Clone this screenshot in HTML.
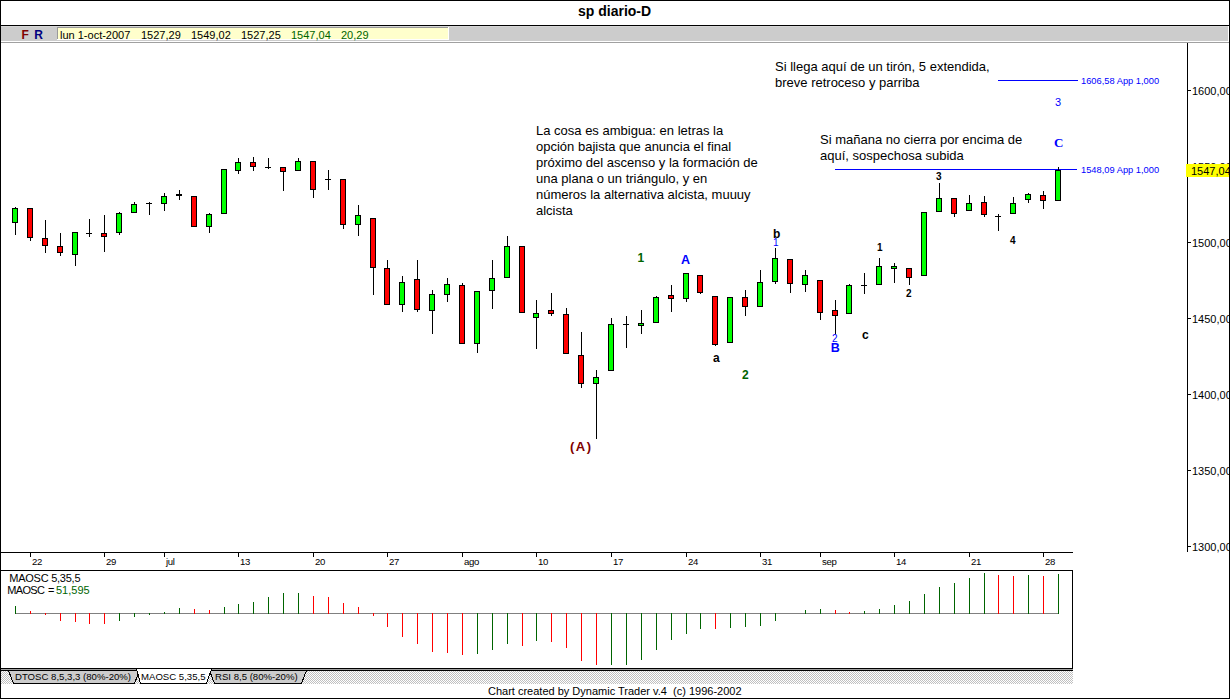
<!DOCTYPE html>
<html><head><meta charset="utf-8">
<style>
html,body{margin:0;padding:0;background:#fff;}
body{width:1230px;height:699px;overflow:hidden;position:relative;}
svg{position:absolute;left:0;top:0;}
text{font-family:"Liberation Sans",sans-serif;}
.t11{font-size:11px;}
.ann{font-size:13px;fill:#000;}
.ax{font-size:11px;fill:#000;}
.dx{font-size:9.6px;fill:#000;letter-spacing:-0.3px}
.wl{font-weight:bold;}
</style></head>
<body>
<svg width="1230" height="699" viewBox="0 0 1230 699">
<g shape-rendering="crispEdges">
<!-- outer border -->
<rect x="0" y="0" width="1230" height="699" fill="#fff"/>
<rect x="0" y="0" width="1230" height="1" fill="#000"/>
<rect x="0" y="0" width="1" height="699" fill="#000"/>
<rect x="1229" y="0" width="1" height="699" fill="#000"/>
<rect x="0" y="698" width="1230" height="1" fill="#000"/>
<!-- toolbar -->
<rect x="0" y="25" width="1230" height="1" fill="#000"/>
<rect x="1" y="26" width="1228" height="15" fill="#cccccc"/>
<rect x="1" y="26" width="1228" height="1" fill="#d6d6d6"/>
<rect x="1" y="41" width="1228" height="1" fill="#ffffff"/>
<rect x="1" y="42" width="1228" height="1" fill="#a0a0a0"/>
<rect x="57" y="27" width="392" height="13" fill="#ffffff"/>
<rect x="57" y="27" width="391" height="1" fill="#999999"/>
<rect x="57" y="27" width="1" height="12" fill="#999999"/>
<rect x="58" y="28" width="390" height="11" fill="#ffffcc"/>
<rect x="1228" y="26" width="1" height="16" fill="#ffffff"/>
<!-- price axis -->
<rect x="1187" y="43" width="1" height="509" fill="#000"/>
<rect x="1187" y="90" width="4" height="1" fill="#000"/>
<rect x="1187" y="166" width="4" height="1" fill="#000"/>
<rect x="1187" y="242" width="4" height="1" fill="#000"/>
<rect x="1187" y="318" width="4" height="1" fill="#000"/>
<rect x="1187" y="394" width="4" height="1" fill="#000"/>
<rect x="1187" y="470" width="4" height="1" fill="#000"/>
<rect x="1187" y="546" width="4" height="1" fill="#000"/>
<!-- date axis -->
<rect x="0" y="552" width="1073" height="1" fill="#000"/>
<rect x="0" y="570" width="1073" height="1" fill="#000"/>
<rect x="30" y="553" width="1" height="4" fill="#000"/>
<rect x="104" y="553" width="1" height="4" fill="#000"/>
<rect x="164" y="553" width="1" height="4" fill="#000"/>
<rect x="238" y="553" width="1" height="4" fill="#000"/>
<rect x="313" y="553" width="1" height="4" fill="#000"/>
<rect x="387" y="553" width="1" height="4" fill="#000"/>
<rect x="462" y="553" width="1" height="4" fill="#000"/>
<rect x="536" y="553" width="1" height="4" fill="#000"/>
<rect x="611" y="553" width="1" height="4" fill="#000"/>
<rect x="686" y="553" width="1" height="4" fill="#000"/>
<rect x="760" y="553" width="1" height="4" fill="#000"/>
<rect x="820" y="553" width="1" height="4" fill="#000"/>
<rect x="894" y="553" width="1" height="4" fill="#000"/>
<rect x="969" y="553" width="1" height="4" fill="#000"/>
<rect x="1043" y="553" width="1" height="4" fill="#000"/>
<!-- osc panel -->
<rect x="1072" y="570" width="1" height="99" fill="#000"/>
<rect x="0" y="668" width="1073" height="1" fill="#000"/>
<!-- projection lines -->
<rect x="998" y="80" width="80" height="1" fill="#0000ff"/>
<rect x="835" y="169" width="242" height="1" fill="#0000ff"/>
<rect x="15" y="207" width="1" height="28" fill="#000"/>
<rect x="12" y="208" width="6" height="15" fill="#000"/>
<rect x="13" y="209" width="4" height="13" fill="#00FF00"/>
<rect x="30" y="208" width="1" height="33" fill="#000"/>
<rect x="27" y="208" width="6" height="30" fill="#000"/>
<rect x="28" y="209" width="4" height="28" fill="#FF0000"/>
<rect x="45" y="220" width="1" height="33" fill="#000"/>
<rect x="42" y="238" width="6" height="8" fill="#000"/>
<rect x="43" y="239" width="4" height="6" fill="#FF0000"/>
<rect x="60" y="233" width="1" height="23" fill="#000"/>
<rect x="57" y="246" width="6" height="7" fill="#000"/>
<rect x="58" y="247" width="4" height="5" fill="#FF0000"/>
<rect x="75" y="232" width="1" height="34" fill="#000"/>
<rect x="72" y="232" width="6" height="23" fill="#000"/>
<rect x="73" y="233" width="4" height="21" fill="#00FF00"/>
<rect x="89" y="219" width="1" height="18" fill="#000"/>
<rect x="86" y="233" width="6" height="1" fill="#000"/>
<rect x="104" y="215" width="1" height="37" fill="#000"/>
<rect x="101" y="233" width="6" height="4" fill="#000"/>
<rect x="102" y="234" width="4" height="2" fill="#FF0000"/>
<rect x="119" y="212" width="1" height="23" fill="#000"/>
<rect x="116" y="213" width="6" height="20" fill="#000"/>
<rect x="117" y="214" width="4" height="18" fill="#00FF00"/>
<rect x="134" y="202" width="1" height="11" fill="#000"/>
<rect x="131" y="204" width="6" height="9" fill="#000"/>
<rect x="132" y="205" width="4" height="7" fill="#00FF00"/>
<rect x="149" y="202" width="1" height="13" fill="#000"/>
<rect x="146" y="203" width="6" height="1" fill="#000"/>
<rect x="164" y="193" width="1" height="18" fill="#000"/>
<rect x="161" y="196" width="6" height="8" fill="#000"/>
<rect x="162" y="197" width="4" height="6" fill="#00FF00"/>
<rect x="179" y="190" width="1" height="10" fill="#000"/>
<rect x="176" y="194" width="6" height="2" fill="#000"/>
<rect x="194" y="196" width="1" height="31" fill="#000"/>
<rect x="191" y="196" width="6" height="31" fill="#000"/>
<rect x="192" y="197" width="4" height="29" fill="#FF0000"/>
<rect x="209" y="213" width="1" height="20" fill="#000"/>
<rect x="206" y="214" width="6" height="13" fill="#000"/>
<rect x="207" y="215" width="4" height="11" fill="#00FF00"/>
<rect x="224" y="169" width="1" height="45" fill="#000"/>
<rect x="221" y="169" width="6" height="45" fill="#000"/>
<rect x="222" y="170" width="4" height="43" fill="#00FF00"/>
<rect x="238" y="158" width="1" height="16" fill="#000"/>
<rect x="235" y="162" width="6" height="9" fill="#000"/>
<rect x="236" y="163" width="4" height="7" fill="#00FF00"/>
<rect x="253" y="157" width="1" height="14" fill="#000"/>
<rect x="250" y="162" width="6" height="5" fill="#000"/>
<rect x="251" y="163" width="4" height="3" fill="#FF0000"/>
<rect x="268" y="158" width="1" height="11" fill="#000"/>
<rect x="265" y="167" width="6" height="1" fill="#000"/>
<rect x="283" y="167" width="1" height="24" fill="#000"/>
<rect x="280" y="167" width="6" height="5" fill="#000"/>
<rect x="281" y="168" width="4" height="3" fill="#FF0000"/>
<rect x="298" y="158" width="1" height="13" fill="#000"/>
<rect x="295" y="161" width="6" height="10" fill="#000"/>
<rect x="296" y="162" width="4" height="8" fill="#00FF00"/>
<rect x="313" y="161" width="1" height="37" fill="#000"/>
<rect x="310" y="161" width="6" height="29" fill="#000"/>
<rect x="311" y="162" width="4" height="27" fill="#FF0000"/>
<rect x="328" y="170" width="1" height="20" fill="#000"/>
<rect x="325" y="179" width="6" height="1" fill="#000"/>
<rect x="343" y="179" width="1" height="50" fill="#000"/>
<rect x="340" y="179" width="6" height="46" fill="#000"/>
<rect x="341" y="180" width="4" height="44" fill="#FF0000"/>
<rect x="358" y="205" width="1" height="31" fill="#000"/>
<rect x="355" y="215" width="6" height="10" fill="#000"/>
<rect x="356" y="216" width="4" height="8" fill="#00FF00"/>
<rect x="373" y="218" width="1" height="77" fill="#000"/>
<rect x="370" y="218" width="6" height="50" fill="#000"/>
<rect x="371" y="219" width="4" height="48" fill="#FF0000"/>
<rect x="387" y="260" width="1" height="45" fill="#000"/>
<rect x="384" y="268" width="6" height="37" fill="#000"/>
<rect x="385" y="269" width="4" height="35" fill="#FF0000"/>
<rect x="402" y="276" width="1" height="36" fill="#000"/>
<rect x="399" y="282" width="6" height="23" fill="#000"/>
<rect x="400" y="283" width="4" height="21" fill="#00FF00"/>
<rect x="417" y="260" width="1" height="52" fill="#000"/>
<rect x="414" y="279" width="6" height="31" fill="#000"/>
<rect x="415" y="280" width="4" height="29" fill="#FF0000"/>
<rect x="432" y="290" width="1" height="44" fill="#000"/>
<rect x="429" y="294" width="6" height="17" fill="#000"/>
<rect x="430" y="295" width="4" height="15" fill="#00FF00"/>
<rect x="447" y="278" width="1" height="24" fill="#000"/>
<rect x="444" y="284" width="6" height="11" fill="#000"/>
<rect x="445" y="285" width="4" height="9" fill="#00FF00"/>
<rect x="462" y="283" width="1" height="61" fill="#000"/>
<rect x="459" y="285" width="6" height="59" fill="#000"/>
<rect x="460" y="286" width="4" height="57" fill="#FF0000"/>
<rect x="477" y="291" width="1" height="62" fill="#000"/>
<rect x="474" y="291" width="6" height="53" fill="#000"/>
<rect x="475" y="292" width="4" height="51" fill="#00FF00"/>
<rect x="492" y="260" width="1" height="49" fill="#000"/>
<rect x="489" y="278" width="6" height="13" fill="#000"/>
<rect x="490" y="279" width="4" height="11" fill="#00FF00"/>
<rect x="507" y="236" width="1" height="42" fill="#000"/>
<rect x="504" y="246" width="6" height="32" fill="#000"/>
<rect x="505" y="247" width="4" height="30" fill="#00FF00"/>
<rect x="522" y="246" width="1" height="67" fill="#000"/>
<rect x="519" y="246" width="6" height="67" fill="#000"/>
<rect x="520" y="247" width="4" height="65" fill="#FF0000"/>
<rect x="536" y="300" width="1" height="49" fill="#000"/>
<rect x="533" y="313" width="6" height="5" fill="#000"/>
<rect x="534" y="314" width="4" height="3" fill="#00FF00"/>
<rect x="551" y="293" width="1" height="23" fill="#000"/>
<rect x="548" y="310" width="6" height="4" fill="#000"/>
<rect x="549" y="311" width="4" height="2" fill="#FF0000"/>
<rect x="566" y="308" width="1" height="46" fill="#000"/>
<rect x="563" y="314" width="6" height="40" fill="#000"/>
<rect x="564" y="315" width="4" height="38" fill="#FF0000"/>
<rect x="581" y="332" width="1" height="56" fill="#000"/>
<rect x="578" y="355" width="6" height="29" fill="#000"/>
<rect x="579" y="356" width="4" height="27" fill="#FF0000"/>
<rect x="596" y="370" width="1" height="69" fill="#000"/>
<rect x="593" y="377" width="6" height="7" fill="#000"/>
<rect x="594" y="378" width="4" height="5" fill="#00FF00"/>
<rect x="611" y="318" width="1" height="53" fill="#000"/>
<rect x="608" y="324" width="6" height="47" fill="#000"/>
<rect x="609" y="325" width="4" height="45" fill="#00FF00"/>
<rect x="626" y="316" width="1" height="32" fill="#000"/>
<rect x="623" y="324" width="6" height="1" fill="#000"/>
<rect x="641" y="310" width="1" height="24" fill="#000"/>
<rect x="638" y="323" width="6" height="3" fill="#000"/>
<rect x="639" y="324" width="4" height="1" fill="#00FF00"/>
<rect x="656" y="296" width="1" height="27" fill="#000"/>
<rect x="653" y="297" width="6" height="26" fill="#000"/>
<rect x="654" y="298" width="4" height="24" fill="#00FF00"/>
<rect x="671" y="285" width="1" height="27" fill="#000"/>
<rect x="668" y="295" width="6" height="4" fill="#000"/>
<rect x="669" y="296" width="4" height="2" fill="#FF0000"/>
<rect x="686" y="273" width="1" height="29" fill="#000"/>
<rect x="683" y="273" width="6" height="26" fill="#000"/>
<rect x="684" y="274" width="4" height="24" fill="#00FF00"/>
<rect x="700" y="275" width="1" height="19" fill="#000"/>
<rect x="697" y="275" width="6" height="18" fill="#000"/>
<rect x="698" y="276" width="4" height="16" fill="#FF0000"/>
<rect x="715" y="296" width="1" height="50" fill="#000"/>
<rect x="712" y="296" width="6" height="49" fill="#000"/>
<rect x="713" y="297" width="4" height="47" fill="#FF0000"/>
<rect x="730" y="297" width="1" height="46" fill="#000"/>
<rect x="727" y="297" width="6" height="46" fill="#000"/>
<rect x="728" y="298" width="4" height="44" fill="#00FF00"/>
<rect x="745" y="290" width="1" height="26" fill="#000"/>
<rect x="742" y="297" width="6" height="10" fill="#000"/>
<rect x="743" y="298" width="4" height="8" fill="#FF0000"/>
<rect x="760" y="270" width="1" height="37" fill="#000"/>
<rect x="757" y="282" width="6" height="25" fill="#000"/>
<rect x="758" y="283" width="4" height="23" fill="#00FF00"/>
<rect x="775" y="248" width="1" height="36" fill="#000"/>
<rect x="772" y="258" width="6" height="24" fill="#000"/>
<rect x="773" y="259" width="4" height="22" fill="#00FF00"/>
<rect x="790" y="259" width="1" height="34" fill="#000"/>
<rect x="787" y="259" width="6" height="25" fill="#000"/>
<rect x="788" y="260" width="4" height="23" fill="#FF0000"/>
<rect x="805" y="270" width="1" height="22" fill="#000"/>
<rect x="802" y="275" width="6" height="10" fill="#000"/>
<rect x="803" y="276" width="4" height="8" fill="#00FF00"/>
<rect x="820" y="280" width="1" height="40" fill="#000"/>
<rect x="817" y="280" width="6" height="33" fill="#000"/>
<rect x="818" y="281" width="4" height="31" fill="#FF0000"/>
<rect x="835" y="300" width="1" height="34" fill="#000"/>
<rect x="832" y="310" width="6" height="6" fill="#000"/>
<rect x="833" y="311" width="4" height="4" fill="#FF0000"/>
<rect x="849" y="284" width="1" height="30" fill="#000"/>
<rect x="846" y="285" width="6" height="29" fill="#000"/>
<rect x="847" y="286" width="4" height="27" fill="#00FF00"/>
<rect x="864" y="273" width="1" height="21" fill="#000"/>
<rect x="861" y="285" width="6" height="1" fill="#000"/>
<rect x="879" y="258" width="1" height="27" fill="#000"/>
<rect x="876" y="266" width="6" height="19" fill="#000"/>
<rect x="877" y="267" width="4" height="17" fill="#00FF00"/>
<rect x="894" y="263" width="1" height="20" fill="#000"/>
<rect x="891" y="266" width="6" height="3" fill="#000"/>
<rect x="892" y="267" width="4" height="1" fill="#00FF00"/>
<rect x="909" y="268" width="1" height="17" fill="#000"/>
<rect x="906" y="268" width="6" height="10" fill="#000"/>
<rect x="907" y="269" width="4" height="8" fill="#FF0000"/>
<rect x="924" y="212" width="1" height="64" fill="#000"/>
<rect x="921" y="212" width="6" height="64" fill="#000"/>
<rect x="922" y="213" width="4" height="62" fill="#00FF00"/>
<rect x="939" y="183" width="1" height="29" fill="#000"/>
<rect x="936" y="198" width="6" height="14" fill="#000"/>
<rect x="937" y="199" width="4" height="12" fill="#00FF00"/>
<rect x="954" y="198" width="1" height="19" fill="#000"/>
<rect x="951" y="198" width="6" height="16" fill="#000"/>
<rect x="952" y="199" width="4" height="14" fill="#FF0000"/>
<rect x="969" y="195" width="1" height="16" fill="#000"/>
<rect x="966" y="203" width="6" height="8" fill="#000"/>
<rect x="967" y="204" width="4" height="6" fill="#00FF00"/>
<rect x="984" y="196" width="1" height="21" fill="#000"/>
<rect x="981" y="202" width="6" height="13" fill="#000"/>
<rect x="982" y="203" width="4" height="11" fill="#FF0000"/>
<rect x="998" y="214" width="1" height="17" fill="#000"/>
<rect x="995" y="216" width="6" height="1" fill="#000"/>
<rect x="1013" y="197" width="1" height="17" fill="#000"/>
<rect x="1010" y="203" width="6" height="11" fill="#000"/>
<rect x="1011" y="204" width="4" height="9" fill="#00FF00"/>
<rect x="1028" y="193" width="1" height="10" fill="#000"/>
<rect x="1025" y="194" width="6" height="6" fill="#000"/>
<rect x="1026" y="195" width="4" height="4" fill="#00FF00"/>
<rect x="1043" y="191" width="1" height="18" fill="#000"/>
<rect x="1040" y="195" width="6" height="6" fill="#000"/>
<rect x="1041" y="196" width="4" height="4" fill="#FF0000"/>
<rect x="1058" y="167" width="1" height="34" fill="#000"/>
<rect x="1055" y="170" width="6" height="31" fill="#000"/>
<rect x="1056" y="171" width="4" height="29" fill="#00FF00"/>
<rect x="15" y="613" width="1044" height="1" fill="#808080"/>
<rect x="15" y="606" width="1" height="8" fill="#006400"/>
<rect x="30" y="611" width="1" height="3" fill="#FF0000"/>
<rect x="45" y="613" width="1" height="2" fill="#FF0000"/>
<rect x="60" y="613" width="1" height="8" fill="#FF0000"/>
<rect x="75" y="613" width="1" height="9" fill="#FF0000"/>
<rect x="89" y="613" width="1" height="11" fill="#FF0000"/>
<rect x="104" y="613" width="1" height="11" fill="#FF0000"/>
<rect x="119" y="613" width="1" height="8" fill="#006400"/>
<rect x="134" y="613" width="1" height="4" fill="#006400"/>
<rect x="149" y="613" width="1" height="2" fill="#006400"/>
<rect x="164" y="612" width="1" height="2" fill="#006400"/>
<rect x="179" y="608" width="1" height="6" fill="#006400"/>
<rect x="194" y="609" width="1" height="5" fill="#FF0000"/>
<rect x="209" y="610" width="1" height="4" fill="#FF0000"/>
<rect x="224" y="607" width="1" height="7" fill="#006400"/>
<rect x="238" y="604" width="1" height="10" fill="#006400"/>
<rect x="253" y="602" width="1" height="12" fill="#006400"/>
<rect x="268" y="597" width="1" height="17" fill="#006400"/>
<rect x="283" y="593" width="1" height="21" fill="#006400"/>
<rect x="298" y="593" width="1" height="21" fill="#006400"/>
<rect x="313" y="596" width="1" height="18" fill="#FF0000"/>
<rect x="328" y="597" width="1" height="17" fill="#FF0000"/>
<rect x="343" y="603" width="1" height="11" fill="#FF0000"/>
<rect x="358" y="607" width="1" height="7" fill="#FF0000"/>
<rect x="373" y="613" width="1" height="3" fill="#FF0000"/>
<rect x="387" y="613" width="1" height="14" fill="#FF0000"/>
<rect x="402" y="613" width="1" height="24" fill="#FF0000"/>
<rect x="417" y="613" width="1" height="31" fill="#FF0000"/>
<rect x="432" y="613" width="1" height="39" fill="#FF0000"/>
<rect x="447" y="613" width="1" height="40" fill="#FF0000"/>
<rect x="462" y="613" width="1" height="42" fill="#FF0000"/>
<rect x="477" y="613" width="1" height="41" fill="#006400"/>
<rect x="492" y="613" width="1" height="37" fill="#006400"/>
<rect x="507" y="613" width="1" height="31" fill="#006400"/>
<rect x="522" y="613" width="1" height="33" fill="#FF0000"/>
<rect x="536" y="613" width="1" height="28" fill="#006400"/>
<rect x="551" y="613" width="1" height="29" fill="#FF0000"/>
<rect x="566" y="613" width="1" height="35" fill="#FF0000"/>
<rect x="581" y="613" width="1" height="48" fill="#FF0000"/>
<rect x="596" y="613" width="1" height="52" fill="#FF0000"/>
<rect x="611" y="613" width="1" height="52" fill="#006400"/>
<rect x="626" y="613" width="1" height="52" fill="#006400"/>
<rect x="641" y="613" width="1" height="47" fill="#006400"/>
<rect x="656" y="613" width="1" height="37" fill="#006400"/>
<rect x="671" y="613" width="1" height="27" fill="#006400"/>
<rect x="686" y="613" width="1" height="21" fill="#006400"/>
<rect x="700" y="613" width="1" height="16" fill="#006400"/>
<rect x="715" y="613" width="1" height="16" fill="#FF0000"/>
<rect x="730" y="613" width="1" height="15" fill="#006400"/>
<rect x="745" y="613" width="1" height="14" fill="#006400"/>
<rect x="760" y="613" width="1" height="13" fill="#006400"/>
<rect x="775" y="613" width="1" height="8" fill="#006400"/>
<rect x="805" y="610" width="1" height="4" fill="#006400"/>
<rect x="820" y="609" width="1" height="5" fill="#006400"/>
<rect x="835" y="610" width="1" height="4" fill="#FF0000"/>
<rect x="849" y="612" width="1" height="2" fill="#FF0000"/>
<rect x="864" y="611" width="1" height="3" fill="#006400"/>
<rect x="879" y="609" width="1" height="5" fill="#006400"/>
<rect x="894" y="605" width="1" height="9" fill="#006400"/>
<rect x="909" y="601" width="1" height="13" fill="#006400"/>
<rect x="924" y="594" width="1" height="20" fill="#006400"/>
<rect x="939" y="587" width="1" height="27" fill="#006400"/>
<rect x="954" y="583" width="1" height="31" fill="#006400"/>
<rect x="969" y="578" width="1" height="36" fill="#006400"/>
<rect x="984" y="573" width="1" height="41" fill="#006400"/>
<rect x="998" y="575" width="1" height="39" fill="#FF0000"/>
<rect x="1013" y="576" width="1" height="38" fill="#FF0000"/>
<rect x="1028" y="575" width="1" height="39" fill="#006400"/>
<rect x="1043" y="576" width="1" height="38" fill="#FF0000"/>
<rect x="1058" y="574" width="1" height="40" fill="#006400"/>
</g>
<!-- title -->
<text x="578" y="16" style="font-size:14px;font-weight:bold">sp diario-D</text>
<!-- toolbar text -->
<text x="21.5" y="39" style="font-size:12px;font-weight:bold;fill:#800000">F</text>
<text x="34.2" y="39" style="font-size:12px;font-weight:bold;fill:#000080">R</text>
<g class="t11">
<text x="60" y="38.8">lun 1-oct-2007</text>
<text x="141" y="38.8">1527,29</text>
<text x="191" y="38.8">1549,02</text>
<text x="241" y="38.8">1527,25</text>
<text x="291" y="38.8" fill="#006400">1547,04</text>
<text x="341" y="38.8" fill="#006400">20,29</text>
</g>
<!-- price labels -->
<g class="ax">
<text x="1192" y="95">1600,00</text>
<text x="1192" y="171">1550,00</text>
<text x="1192" y="247">1500,00</text>
<text x="1192" y="323">1450,00</text>
<text x="1192" y="399">1400,00</text>
<text x="1192" y="475">1350,00</text>
<text x="1192" y="551">1300,00</text>
</g>
<rect x="1186" y="164" width="43" height="13" fill="#ffff00"/>
<text x="1191" y="175" class="ax">1547,04</text>
<text x="32" y="565" class="dx">22</text>
<text x="106" y="565" class="dx">29</text>
<text x="166" y="565" class="dx">jul</text>
<text x="240" y="565" class="dx">13</text>
<text x="315" y="565" class="dx">20</text>
<text x="389" y="565" class="dx">27</text>
<text x="464" y="565" class="dx">ago</text>
<text x="538" y="565" class="dx">10</text>
<text x="613" y="565" class="dx">17</text>
<text x="688" y="565" class="dx">24</text>
<text x="762" y="565" class="dx">31</text>
<text x="822" y="565" class="dx">sep</text>
<text x="896" y="565" class="dx">14</text>
<text x="971" y="565" class="dx">21</text>
<text x="1045" y="565" class="dx">28</text>
<!-- annotations -->
<g class="ann">
<text x="775" y="71">Si llega aquí de un tirón, 5 extendida,</text>
<text x="775" y="87">breve retroceso y parriba</text>
<text x="536" y="135">La cosa es ambigua: en letras la</text>
<text x="536" y="151">opción bajista que anuncia el final</text>
<text x="536" y="167">próximo del ascenso y la formación de</text>
<text x="536" y="183">una plana o un triángulo, y en</text>
<text x="536" y="199">números la alternativa alcista, muuuy</text>
<text x="536" y="215">alcista</text>
<text x="820" y="144">Si mañana no cierra por encima de</text>
<text x="820" y="160">aquí, sospechosa subida</text>
</g>
<text x="1081" y="84" style="font-size:9.3px;fill:#0000ff">1606,58 App 1,000</text>
<text x="1081" y="173" style="font-size:9.3px;fill:#0000ff">1548,09 App 1,000</text>
<!-- wave labels -->
<text x="570" y="451" style="font-size:13px;font-weight:bold;fill:#800000;letter-spacing:1.5px">(A)</text>
<text x="637.6" y="262" style="font-size:12px;font-weight:bold;fill:#006400">1</text>
<text x="681" y="264" style="font-size:12.5px;font-weight:bold;fill:#0000ff">A</text>
<text x="713" y="362" style="font-size:12px;font-weight:bold;fill:#000">a</text>
<text x="742" y="379" style="font-size:12px;font-weight:bold;fill:#006400">2</text>
<text x="773" y="238" style="font-size:12px;font-weight:bold;fill:#000">b</text>
<text x="773" y="246" style="font-size:10px;fill:#0000ff">1</text>
<text x="832" y="342" style="font-size:10px;fill:#0000ff">2</text>
<text x="830.8" y="352" style="font-size:12.5px;font-weight:bold;fill:#0000ff">B</text>
<text x="862" y="339" style="font-size:12px;font-weight:bold;fill:#000">c</text>
<text x="877" y="251" style="font-size:10px;font-weight:bold;fill:#000">1</text>
<text x="906" y="297" style="font-size:10px;font-weight:bold;fill:#000">2</text>
<text x="936" y="180" style="font-size:10px;font-weight:bold;fill:#000">3</text>
<text x="1010" y="244" style="font-size:10px;font-weight:bold;fill:#000">4</text>
<text x="1055" y="106" style="font-size:11px;fill:#0000ff">3</text>
<text x="1054" y="147" style="font-family:'Liberation Serif',serif;font-size:13px;font-weight:bold;fill:#0000ff">C</text>
<!-- osc labels -->
<text x="9.3" y="582" class="t11" style="letter-spacing:-0.25px">MAOSC 5,35,5</text>
<text x="7.3" y="594" class="t11" style="letter-spacing:-0.7px">MAOSC</text><text x="48" y="594" class="t11">=</text><text x="56" y="594" class="t11" fill="#006400">51,595</text>
<!-- tabs -->
<defs><pattern id="dith" x="0" y="0" width="2" height="2" patternUnits="userSpaceOnUse">
<rect width="2" height="2" fill="#ffffff"/><rect width="1" height="1" fill="#c0c0c0"/><rect x="1" y="1" width="1" height="1" fill="#c0c0c0"/></pattern></defs>
<g shape-rendering="crispEdges">
<rect x="1" y="669" width="1072" height="1" fill="#a0a0a0"/>
<rect x="1" y="670" width="1072" height="1" fill="#000000"/>
<rect x="1" y="671" width="1072" height="13" fill="url(#dith)"/>
<polygon points="8.5,670.5 13.5,683.5 134.5,683.5 139.5,670.5" fill="#cccccc" stroke="#000" stroke-width="1"/>
<polygon points="209.5,670.5 214.5,683.5 301.5,683.5 306.5,670.5" fill="#cccccc" stroke="#000" stroke-width="1"/>
<polygon points="136.5,669 140.5,683.5 206.5,683.5 211.5,669" fill="#ffffff" stroke="#000" stroke-width="1"/>
<rect x="137" y="669" width="74" height="2" fill="#fff"/>
</g>
<text x="15" y="680" style="font-size:9.6px">DTOSC 8,5,3,3 (80%-20%)</text>
<text x="141" y="680" style="font-size:9.6px">MAOSC 5,35,5</text>
<text x="215" y="680" style="font-size:9.6px">RSI 8,5 (80%-20%)</text>

<!-- footer -->
<text x="488" y="695" class="t11" style="white-space:pre">Chart created by Dynamic Trader v.4  (c) 1996-2002</text>
</svg>
</body></html>
